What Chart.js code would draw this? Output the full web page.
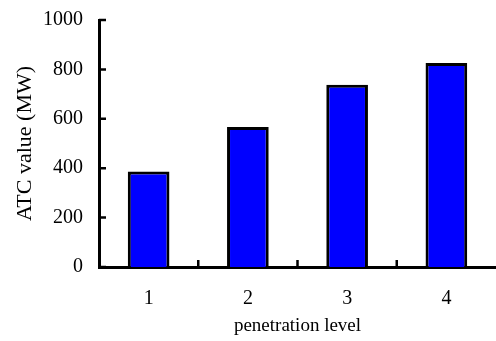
<!DOCTYPE html>
<html>
<head>
<meta charset="utf-8">
<script src="https://cdn.jsdelivr.net/npm/chart.js@4.4.1/dist/chart.umd.min.js"></script>
<style>
  html, body { margin: 0; padding: 0; background: #fff; }
  #wrap { width: 496px; height: 341px; }
</style>
</head>
<body>
<div id="wrap"><canvas id="c" width="496" height="341"></canvas></div>
<script>
const levels = ['1', '2', '3', '4'];
const atcValues = [387, 567, 738, 826];
const yTicks = [0, 200, 400, 600, 800, 1000];

const FONT = 'Liberation Serif, Times New Roman, serif';

// inward tick marks like the original figure
const insideTicks = {
  id: 'insideTicks',
  afterDatasetsDraw(chart) {
    const { ctx, scales: { x, y } } = chart;
    const len = 7;
    ctx.save();
    ctx.strokeStyle = '#000';
    ctx.lineWidth = 2.5;
    ctx.beginPath();
    for (const v of yTicks) {
      const py = y.getPixelForValue(v);
      ctx.moveTo(x.left, py);
      ctx.lineTo(x.left + len, py);
    }
    for (let i = 0; i < levels.length - 1; i++) {
      const px = (x.getPixelForTick(i) + x.getPixelForTick(i + 1)) / 2;
      ctx.moveTo(px, y.bottom);
      ctx.lineTo(px, y.bottom - len);
    }
    ctx.stroke();
    ctx.restore();
  }
};

new Chart(document.getElementById('c'), {
  type: 'bar',
  data: {
    labels: levels,
    datasets: [{
      data: atcValues,
      backgroundColor: '#0000ff',
      borderColor: '#000',
      borderWidth: 3,
      borderSkipped: 'bottom',
      categoryPercentage: 1,
      barPercentage: 0.42
    }]
  },
  options: {
    responsive: false,
    animation: false,
    layout: { padding: { top: 9, right: 0, left: 0, bottom: 0 } },
    plugins: { legend: { display: false }, tooltip: { enabled: false } },
    scales: {
      x: {
        grid: { display: false },
        border: { display: true, color: '#000', width: 3 },
        ticks: { color: '#000', padding: 12, font: { family: FONT, size: 20 } },
        title: { display: true, text: 'penetration level', color: '#000', padding: { top: 0, bottom: 4 }, font: { family: FONT, size: 19 } },
        afterFit(s) { s.height = 74; }
      },
      y: {
        min: 0,
        max: 1000,
        grid: { display: false },
        border: { display: true, color: '#000', width: 3 },
        afterBuildTicks(s) { s.ticks = yTicks.map(v => ({ value: v })); },
        ticks: { color: '#000', padding: 8, font: { family: FONT, size: 20 }, callback: v => String(v) },
        title: { display: true, text: 'ATC value (MW)', color: '#000', padding: { top: 12, bottom: 4 }, font: { family: FONT, size: 22 } },
        afterFit(s) { s.width = 99; }
      }
    }
  },
  plugins: [insideTicks]
});
</script>
</body>
</html>
